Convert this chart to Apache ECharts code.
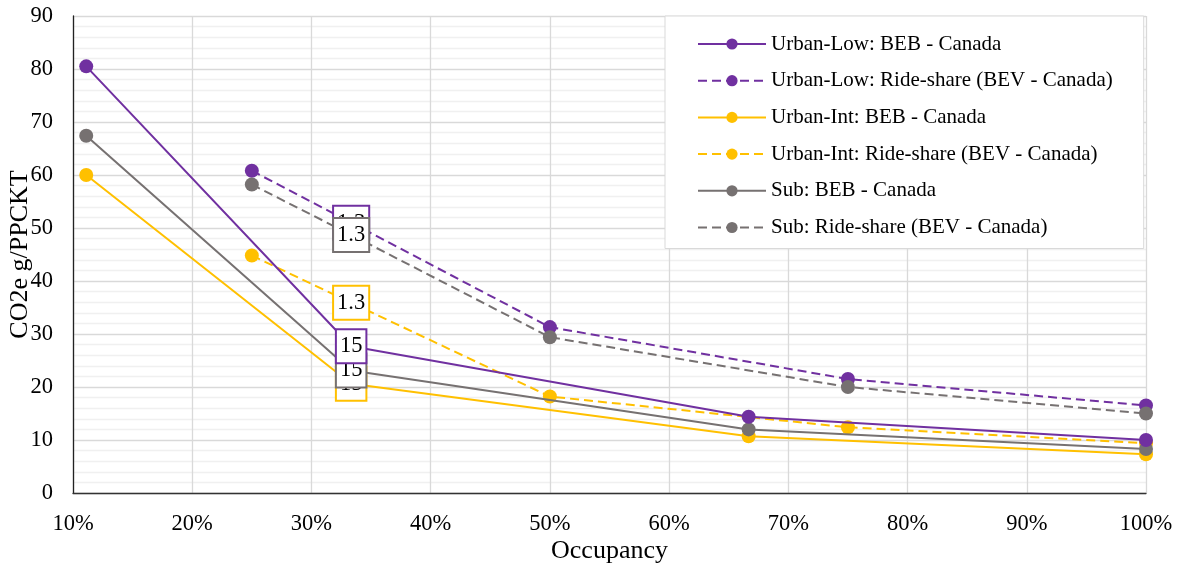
<!DOCTYPE html>
<html>
<head>
<meta charset="utf-8">
<script src="https://cdn.jsdelivr.net/npm/echarts@6/dist/echarts.min.js"></script>
<style>
  html, body { margin: 0; padding: 0; background: #fff; }
  #chart { width: 1186px; height: 564px; }
</style>
</head>
<body>
<div id="chart"></div>
<script>
// Occupancy (%) at which each scenario is evaluated
const occBEB = [11.11, 33.33, 66.67, 100];
const occRide = [25, 33.33, 50, 75, 100];

// Emissions, CO2e g per passenger-km travelled
const urbanLowBEB = [80.5, 27.7, 14.4, 10.0];
const urbanLowRide = [60.8, 51.0, 31.3, 21.5, 16.5];
const urbanIntBEB = [60.0, 20.6, 10.7, 7.3];
const urbanIntRide = [44.8, 35.9, 18.2, 12.4, 9.4];
const subBEB = [67.4, 23.1, 12.0, 8.3];
const subRide = [58.2, 48.7, 29.4, 20.0, 15.0];

// Annotated point (index) and its text for each kind of service
const beBLabelIndex = 1, beBLabelText = '15';
const rideLabelIndex = 1, rideLabelText = '1.3';

const xTicks = [10, 20, 30, 40, 50, 60, 70, 80, 90, 100];

const FONT = '"Liberation Serif", "Times New Roman", serif';
const PURPLE = '#7030A0', YELLOW = '#FFC000', GRAY = '#767171';

function pairs(xs, ys, labelIdx, labelText, color) {
  return ys.map((y, i) => {
    const item = { value: [xs[i], y] };
    if (i === labelIdx) {
      item.symbolSize = 1;
      item.label = {
        show: true,
        position: 'inside',
        formatter: labelText,
        fontFamily: FONT,
        fontSize: 22.5,
        lineHeight: 24,
        color: '#000',
        backgroundColor: '#fff',
        borderColor: color,
        borderWidth: 2,
        padding: [4, 3, 4, 3]
      };
    }
    return item;
  });
}

function series(name, xs, ys, color, dashed, labelIdx, labelText, z) {
  return {
    name: name,
    type: 'line',
    z: z,
    data: pairs(xs, ys, labelIdx, labelText, color),
    smooth: false,
    symbol: 'circle',
    symbolSize: 14,
    itemStyle: { color: color },
    lineStyle: { color: color, width: 2, type: dashed ? [9, 5] : 'solid' },
    emphasis: { disabled: true }
  };
}

const chart = echarts.init(document.getElementById('chart'), null, { renderer: 'canvas' });
chart.setOption({
  animation: false,
  backgroundColor: '#fff',
  textStyle: { fontFamily: FONT },
  grid: { left: 73, right: 40, top: 16, bottom: 71, containLabel: false, outerBoundsMode: 'none' },
  legend: {
    orient: 'vertical',
    left: 665,
    top: 16,
    padding: [17, 31, 10, 32],
    backgroundColor: '#fff',
    borderColor: '#d9d9d9',
    borderWidth: 1,
    itemWidth: 68,
    itemHeight: 14,
    itemGap: 14.7,
    textStyle: { fontFamily: FONT, fontSize: 21, lineHeight: 22, color: '#000' },
    data: [
      'Urban-Low: BEB - Canada',
      'Urban-Low: Ride-share (BEV - Canada)',
      'Urban-Int: BEB - Canada',
      'Urban-Int: Ride-share (BEV - Canada)',
      'Sub: BEB - Canada',
      'Sub: Ride-share (BEV - Canada)'
    ]
  },
  xAxis: {
    type: 'value',
    min: xTicks[0],
    max: xTicks[xTicks.length - 1],
    interval: 10,
    name: 'Occupancy',
    nameLocation: 'middle',
    nameGap: 45,
    nameMoveOverlap: false,
    nameTextStyle: { fontFamily: FONT, fontSize: 26, color: '#000' },
    axisLine: { show: true, lineStyle: { color: '#333', width: 1.3 } },
    axisTick: { show: false },
    axisLabel: { formatter: '{value}%', fontFamily: FONT, fontSize: 22.5, color: '#000', margin: 20 },
    splitLine: { show: true, lineStyle: { color: '#d9d9d9', width: 1.3 } }
  },
  yAxis: {
    type: 'value',
    min: 0,
    max: 90,
    interval: 10,
    name: 'CO2e g/PPCKT',
    nameLocation: 'middle',
    nameGap: 40,
    nameMoveOverlap: false,
    nameTextStyle: { fontFamily: FONT, fontSize: 26, color: '#000' },
    axisLine: { show: true, lineStyle: { color: '#222', width: 1.3 } },
    axisTick: { show: false },
    axisLabel: { fontFamily: FONT, fontSize: 22.5, color: '#000', margin: 20 },
    splitLine: { show: true, lineStyle: { color: '#d9d9d9', width: 1.3 } },
    minorTick: { show: false, splitNumber: 5 },
    minorSplitLine: { show: true, lineStyle: { color: '#f0f0f0', width: 1.3 } }
  },
  series: [
    series('Urban-Low: BEB - Canada', occBEB, urbanLowBEB, PURPLE, false, beBLabelIndex, beBLabelText, 6),
    series('Urban-Low: Ride-share (BEV - Canada)', occRide, urbanLowRide, PURPLE, true, rideLabelIndex, rideLabelText, 3),
    series('Urban-Int: BEB - Canada', occBEB, urbanIntBEB, YELLOW, false, beBLabelIndex, beBLabelText, 2),
    series('Urban-Int: Ride-share (BEV - Canada)', occRide, urbanIntRide, YELLOW, true, rideLabelIndex, rideLabelText, 2),
    series('Sub: BEB - Canada', occBEB, subBEB, GRAY, false, beBLabelIndex, beBLabelText, 4),
    series('Sub: Ride-share (BEV - Canada)', occRide, subRide, GRAY, true, rideLabelIndex, rideLabelText, 4)
  ]
});
</script>
</body>
</html>
